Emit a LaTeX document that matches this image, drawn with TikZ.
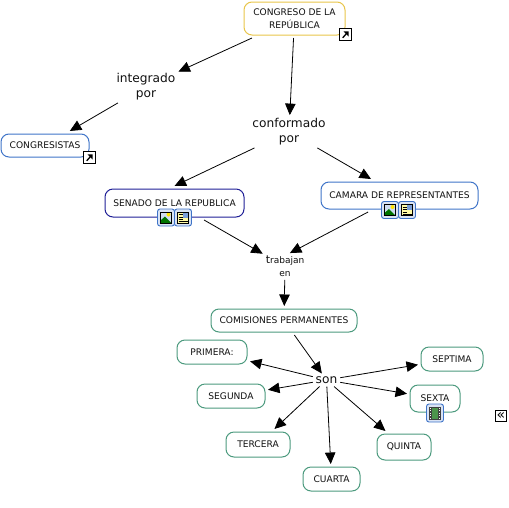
\documentclass[tikz,border=0pt]{standalone}
\usepackage{fontspec}
\setmainfont{DejaVu Sans}
\definecolor{yel}{HTML}{E8C54A}
\definecolor{blu}{HTML}{3F74C8}
\definecolor{nav}{HTML}{1F1F96}
\definecolor{grn}{HTML}{4C9A7E}
\definecolor{txt}{HTML}{101010}
\usetikzlibrary{arrows.meta}
\tikzset{
  x=1pt,y=-1pt,
  box/.style={draw,line width=1pt,rounded corners=8pt,align=center,inner sep=0pt,text=txt,font=\fontsize{9.1}{12.5}\selectfont,outer sep=3pt},
  lab/.style={align=center,inner sep=1pt,outer sep=2pt,text=txt,font=\fontsize{12.2}{15}\selectfont},
  link/.style={line width=0.8pt,black,-{Triangle[length=11.5pt,width=10.5pt]}},
  ico/.style={draw=blu,line width=0.9pt,rounded corners=2.5pt,fill=blu!20,minimum size=17pt,inner sep=0pt},
  sq/.style={draw=black,line width=1.2pt,fill=white,minimum size=11.5pt,inner sep=0pt},
}
\newcommand{\arrowico}[2]{%
  \node[sq] (#1) at (#2) {};
  \draw[black,line width=1.3pt] ([shift={(-2.8,3.3)}]#1.center) -- ([shift={(1,-1)}]#1.center);
  \fill[black] ([shift={(-2,-3.2)}]#1.center) -- ([shift={(3.2,-3.2)}]#1.center) -- ([shift={(3.2,2)}]#1.center) -- cycle;
}
\newcommand{\imgico}[2]{%
  \node[ico] (#1) at (#2) {};
  \fill[blu!25] ([shift={(-5.5,-5.5)}]#1.center) rectangle ([shift={(5.5,5.5)}]#1.center);
  \fill[yellow!85!orange] ([shift={(2.5,-3)}]#1.center) circle (2pt);
  \fill[green!45!black] ([shift={(-5.5,5.5)}]#1.center) -- ([shift={(-5.5,3)}]#1.center) -- ([shift={(-1,-1)}]#1.center) -- ([shift={(5.5,5.5)}]#1.center) -- cycle;
  \draw[black,line width=0.5pt] ([shift={(-5.5,-5.5)}]#1.center) rectangle ([shift={(5.5,5.5)}]#1.center);
}
\newcommand{\docico}[2]{%
  \node[ico] (#1) at (#2) {};
  \fill[yellow!35] ([shift={(-5.5,-5.5)}]#1.center) rectangle ([shift={(5.5,5.5)}]#1.center);
  \fill[blu!70] ([shift={(0,-5)}]#1.center) rectangle ([shift={(5,0)}]#1.center);
  \foreach \yy in {-3,-0.5,2}{\draw[black,line width=0.6pt] ([shift={(-4.5,\yy)}]#1.center) -- ([shift={(-0.5,\yy)}]#1.center);}
  \draw[black,line width=0.6pt] ([shift={(-4.5,4)}]#1.center) -- ([shift={(4.5,4)}]#1.center);
  \draw[black,line width=0.5pt] ([shift={(-5.5,-5.5)}]#1.center) rectangle ([shift={(5.5,5.5)}]#1.center);
}
\newcommand{\filmico}[2]{%
  \node[ico,minimum width=17pt,minimum height=18pt] (#1) at (#2) {};
  \fill[black!75] ([shift={(-6,-6.5)}]#1.center) rectangle ([shift={(6,6.5)}]#1.center);
  \fill[green!40!black!70] ([shift={(-3,-5.5)}]#1.center) rectangle ([shift={(3,5.5)}]#1.center);
  \foreach \yy in {-5.5,-3,-0.5,2,4.5}{%
    \fill[white] ([shift={(-5.2,\yy)}]#1.center) rectangle ([shift={(-3.9,\yy+1.2)}]#1.center);
    \fill[white] ([shift={(3.9,\yy)}]#1.center) rectangle ([shift={(5.2,\yy+1.2)}]#1.center);}
}
\begin{document}
\begin{tikzpicture}
\useasboundingbox (0,0) rectangle (509,507);
\node[box,draw=yel,minimum width=101pt,minimum height=33pt] (congreso) at (294.5,18.5) {CONGRESO DE LA\\REPÚBLICA};
\node[box,draw=blu,minimum width=88pt,minimum height=23pt] (congresistas) at (45,145.5) {CONGRESISTAS};
\node[box,draw=nav,minimum width=139pt,minimum height=28pt] (senado) at (174.5,203) {SENADO DE LA REPUBLICA};
\node[box,draw=blu,minimum width=157pt,minimum height=27pt] (camara) at (399.5,195.5) {CAMARA DE REPRESENTANTES};
\node[box,draw=grn,minimum width=146pt,minimum height=23pt] (comisiones) at (284,320.5) {COMISIONES PERMANENTES};
\node[box,draw=grn,minimum width=70pt,minimum height=24pt] (primera) at (212,352) {PRIMERA:};
\node[box,draw=grn,minimum width=62pt,minimum height=24pt] (septima) at (452,359) {SEPTIMA};
\node[box,draw=grn,minimum width=68pt,minimum height=24pt] (segunda) at (231,396) {SEGUNDA};
\node[box,draw=grn,minimum width=50pt,minimum height=27pt] (sexta) at (435,398.5) {SEXTA};
\node[box,draw=grn,minimum width=64pt,minimum height=25pt] (tercera) at (258,444.5) {TERCERA};
\node[box,draw=grn,minimum width=54pt,minimum height=26pt] (quinta) at (404,447) {QUINTA};
\node[box,draw=grn,minimum width=57pt,minimum height=24pt] (cuarta) at (331.5,479) {CUARTA};
\node[lab] (integrado) at (146,86.5) {integrado\\por};
\node[lab] (conformado) at (289,131.5) {conformado\\por};
\node[lab,font=\fontsize{9}{13}\selectfont] (trabajan) at (285,266.5) {{\fontsize{11}{13}\selectfont t}rabajan\\en};
\node[lab] (son) at (326.5,380) {son};
\draw[link] (congreso) -- (integrado);
\draw[link] (integrado) -- (congresistas);
\draw[link] (congreso) -- (conformado);
\draw[link] (conformado) -- (senado.north);
\draw[link] (conformado) -- (camara);
\draw[link] (senado) -- (trabajan);
\draw[link] (camara) -- (trabajan.70);
\draw[link] (trabajan) -- (comisiones);
\draw[link] (comisiones) -- (son);
\draw[link] (son) -- (primera);
\draw[link] (son) -- (septima);
\draw[link] (son) -- (segunda);
\draw[link] (son) -- (sexta);
\draw[link] (son) -- (tercera);
\draw[link] (son) -- (quinta);
\draw[link] (son) -- (cuarta);
\arrowico{ar1}{345.5,34.5}
\arrowico{ar2}{89.5,157.5}
\imgico{im1}{166,217.5}
\docico{dc1}{183,217.5}
\imgico{im2}{390,210}
\docico{dc2}{407,210}
\filmico{fm1}{435,413}
\node[sq,font=\fontsize{14}{14}\selectfont] (back) at (501,416) {\raisebox{0.6pt}{«}};
\end{tikzpicture}
\end{document}
